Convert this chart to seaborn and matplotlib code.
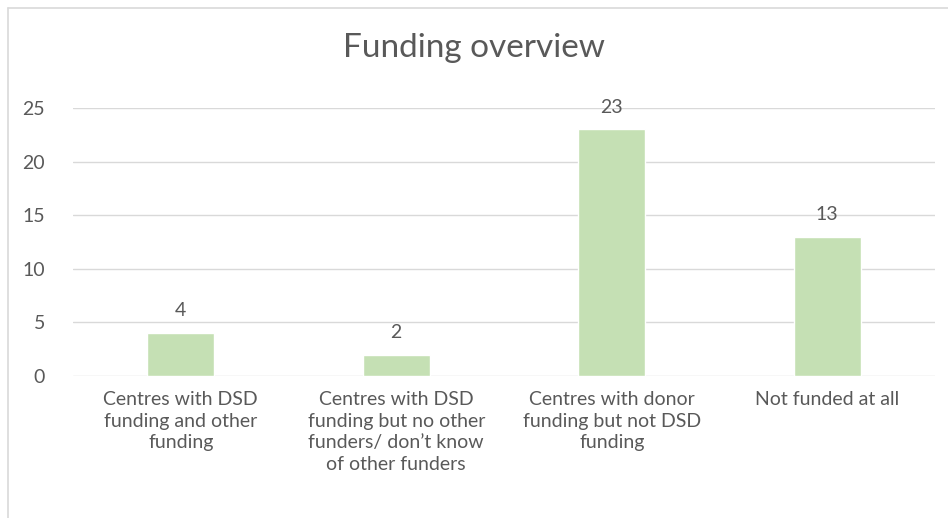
import matplotlib
matplotlib.use("Agg")
import matplotlib.pyplot as plt
import seaborn as sns
import pandas as pd
from matplotlib.lines import Line2D

categories = [
    "Centres with DSD\nfunding and other\nfunding",
    "Centres with DSD\nfunding but no other\nfunders/ don\u2019t know\nof other funders",
    "Centres with donor\nfunding but not DSD\nfunding",
    "Not funded at all",
]
values = [4, 2, 23, 13]
yticks = [0, 5, 10, 15, 20, 25]

sns.set_theme(style="white")
plt.rcParams['font.family'] = ['Lato', 'DejaVu Sans']
txt = "#595959"

df = pd.DataFrame({"cat": categories, "val": values})
fig = plt.figure(figsize=(9.48, 5.18), dpi=100)
ax = fig.add_axes([73/948, 1-376/518, (935-73)/948, (376-108)/518])
sns.barplot(data=df, x="cat", y="val", color="#C5E0B4", width=0.31, saturation=1, ax=ax, zorder=3)
ax.set_ylim(0, 25)
ax.set_yticks(yticks)
ax.set_xlim(-0.5, 3.5)
ax.grid(axis="y", color="#D9D9D9", linewidth=1, zorder=0)
ax.set_axisbelow(True)
for s in ax.spines.values():
    s.set_visible(False)
ax.set_xlabel("")
ax.set_ylabel("")
ax.tick_params(axis="y", labelsize=14, colors=txt, length=0, pad=20)
ax.tick_params(axis="x", labelsize=14, colors=txt, length=0, pad=11)
for lab in ax.get_xticklabels():
    lab.set_linespacing(1.32)
for c in ax.containers:
    ax.bar_label(c, labels=[str(v) for v in values], padding=10, fontsize=14, color=txt)
fig.text(0.5, 1-48/518, "Funding overview", ha="center", va="center", fontsize=24, color=txt)
fig.add_artist(Line2D([8/948, 8/948], [0, 1-8/518], color="#D9D9D9", lw=1.2, transform=fig.transFigure))
fig.add_artist(Line2D([8/948, 1], [1-8/518, 1-8/518], color="#D9D9D9", lw=1.2, transform=fig.transFigure))
fig.savefig("out.png", dpi=100)
